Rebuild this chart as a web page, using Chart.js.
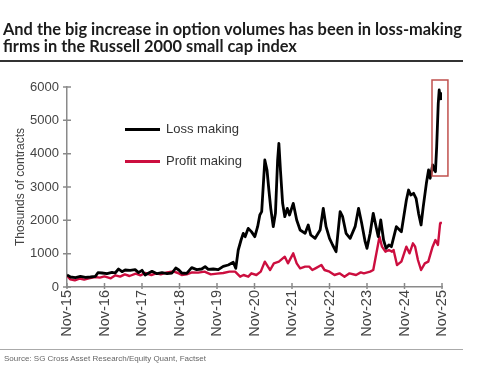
<!DOCTYPE html>
<html>
<head>
<meta charset="utf-8">
<script src="https://cdn.jsdelivr.net/npm/chart.js@4.4.1/dist/chart.umd.min.js"></script>
<style>
  html, body { margin: 0; padding: 0; background: #fff; }
  #wrap { position: relative; width: 487px; height: 372px; overflow: hidden; }
  #chart { position: absolute; left: 0; top: 0; }
  .title { position: absolute; left: 3px; top: 20px; font: 700 16.4px Lato, sans-serif; line-height: 17px; color: #1c1c1c; white-space: nowrap; }
  .rule { position: absolute; left: 0; top: 60px; width: 463px; height: 2px; background: #333; }
  .srcrule { position: absolute; left: 0; top: 349px; width: 463px; height: 1px; background: #aaa; }
  .source { position: absolute; left: 4px; top: 354px; font: 8px "Liberation Sans", Arial, sans-serif; color: #666; }
  .legend { position: absolute; left: 125px; font: 13px "Liberation Sans", Arial, sans-serif; color: #333; white-space: nowrap; }
  .legend span { display: inline-block; width: 35px; vertical-align: middle; margin-right: 6px; }
</style>
</head>
<body>
<div id="wrap">
  <canvas id="chart" width="487" height="372"></canvas>
  <div class="title">And the big increase in option volumes has been in loss-making<br>firms in the Russell 2000 small cap index</div>
  <div class="rule"></div>
  <div class="legend" style="top:121px"><span style="height:3px;background:#000"></span>Loss making</div>
  <div class="legend" style="top:153px"><span style="height:2.5px;background:#cc0e3f"></span>Profit making</div>
  <div class="srcrule"></div>
  <div class="source">Source: SG Cross Asset Research/Equity Quant, Factset</div>
</div>
<script>
// months since Nov-15, and thousands of contracts
var lossMonths = [0, 1.1, 2.7, 4.3, 5.9, 7.5, 9.1, 9.9, 11.2, 12.8, 14.4, 15.4, 16.5, 17.6, 18.6, 20.2, 21.8, 22.9, 24, 25,
    26.3, 27.2, 28.8, 30.4, 32, 33.6, 34.8, 35.8, 36.7, 38.3, 39.9, 41.5, 43.1, 44.2, 45.2, 46.8, 48.4, 50, 51.6, 53.2,
    54, 54.8, 55.7, 56.4, 57, 58, 59, 60.1, 61, 61.7, 62.3, 63.3, 64, 64.6, 65.2, 66, 66.7, 67.4, 67.8, 68.3,
    69, 69.7, 70.5, 71.2, 72.4, 73.5, 74.6, 76.2, 77.2, 78, 79.4, 81, 82, 82.9, 84, 85, 86.1, 87.4, 88.2, 89.3,
    90.6, 92.2, 93.3, 94.3, 95.4, 96, 97, 98, 98.9, 99.6, 100.4, 101.3, 102.1, 103, 103.8, 105.4, 107, 108.6, 109.3, 110,
    110.9, 111.7, 112.5, 113.3, 114, 115, 115.7, 116.2, 117, 117.5, 117.9, 118.3, 118.8, 119.1, 119.4, 119.6, 119.8];
var lossValues = [360, 300, 280, 320, 290, 300, 320, 430, 420, 400, 440, 420, 540, 460, 510, 500, 520, 430, 500, 360,
    430, 470, 400, 430, 400, 420, 570, 510, 420, 410, 580, 520, 540, 610, 530, 540, 520, 620, 660, 740,
    560, 1110, 1410, 1610, 1510, 1760, 1660, 1510, 1810, 2160, 2260, 3810, 3510, 2910, 2360, 1810, 2210, 3810, 4310, 3510,
    2510, 2110, 2360, 2160, 2510, 2010, 1710, 1610, 1860, 1560, 1460, 1710, 2360, 1810, 1460, 1260, 1060, 2260, 2110, 1610,
    1460, 1810, 2360, 1910, 1360, 1160, 1610, 2210, 1810, 1510, 2010, 1410, 1160, 1260, 1210, 1810, 1660, 2610, 2910, 2760,
    2810, 2660, 2210, 1860, 2410, 3110, 3510, 3260, 3660, 3510, 3460, 4210, 5510, 5910, 5710, 5810, 5610];

var profitMonths = [0, 1, 2.5, 4, 5.5, 7, 9, 10.5, 12, 14, 15.5, 17, 18.5, 20, 22, 23.5, 25, 27, 28.5, 30,
    32, 34, 35.5, 36.7, 38.3, 40, 42, 44, 46, 48, 50, 52, 53.8, 55.4, 56.5, 58, 59, 60.6, 62, 63.3,
    64.3, 65, 66.2, 67.8, 69.7, 70.7, 72.4, 73.5, 74.6, 76.2, 77.5, 78.5, 79.5, 81.4, 82.4, 84, 85.6, 87.2, 88.8, 90.4,
    92.5, 94, 95, 97, 98, 98.9, 100, 100.8, 101.9, 103, 104, 104.5, 105.6, 107, 108.6, 109.6, 110.7, 111.4, 112.3, 113.3,
    114.5, 115.6, 117, 117.9, 118.7, 119.4, 119.6];
var profitValues = [340, 230, 200, 250, 220, 260, 300, 280, 320, 260, 350, 310, 380, 330, 400, 350, 420, 360, 410, 380,
    440, 470, 420, 360, 380, 440, 430, 460, 380, 400, 420, 460, 460, 310, 360, 310, 410, 360, 460, 760,
    610, 510, 710, 760, 910, 710, 1010, 710, 560, 610, 610, 510, 560, 660, 510, 460, 360, 410, 310, 410,
    360, 440, 410, 460, 510, 960, 1510, 1210, 1060, 1110, 1060, 1110, 660, 760, 1210, 1010, 1310, 1210, 810, 510,
    710, 760, 1210, 1410, 1260, 1910, 1960];

var tickLabels = ['Nov-15', 'Nov-16', 'Nov-17', 'Nov-18', 'Nov-19', 'Nov-20', 'Nov-21', 'Nov-22', 'Nov-23', 'Nov-24', 'Nov-25'];
var yTicks = [0, 1000, 2000, 3000, 4000, 5000, 6000];
// highlighted recent spike: [month from, month to, value low, value high]
var highlightBox = [116.8, 121.9, 3330, 6210];

function toPoints(xs, ys) {
    return xs.map(function(x, i) { return { x: x, y: ys[i] }; });
}

var AXIS_COLOR = '#8a8a8a';

// tick marks that cross the axis line, plus the red highlight box
var extrasPlugin = {
    id: 'extras',
    afterDraw: function(chart) {
        var ctx = chart.ctx, xs = chart.scales.x, ys = chart.scales.y;
        var area = chart.chartArea;
        ctx.save();
        ctx.strokeStyle = AXIS_COLOR;
        ctx.lineWidth = 1.5;
        ctx.beginPath();
        xs.ticks.forEach(function(t) {
            var px = xs.getPixelForValue(t.value);
            ctx.moveTo(px, area.bottom - 4);
            ctx.lineTo(px, area.bottom + 2);
        });
        ys.ticks.forEach(function(t) {
            var py = ys.getPixelForValue(t.value);
            ctx.moveTo(area.left - 4, py);
            ctx.lineTo(area.left + 4, py);
        });
        ctx.stroke();

        ctx.strokeStyle = '#c0504d';
        ctx.lineWidth = 1.5;
        var x0 = xs.getPixelForValue(highlightBox[0]), x1 = xs.getPixelForValue(highlightBox[1]);
        var y0 = ys.getPixelForValue(highlightBox[3]), y1 = ys.getPixelForValue(highlightBox[2]);
        ctx.strokeRect(x0, y0, x1 - x0, y1 - y0);
        ctx.restore();
    }
};

new Chart(document.getElementById('chart').getContext('2d'), {
    type: 'line',
    data: {
        datasets: [{
            label: 'Loss making',
            data: toPoints(lossMonths, lossValues),
            borderColor: '#000',
            borderWidth: 2.8,
            borderJoinStyle: 'round',
            pointRadius: 0,
            tension: 0
        }, {
            label: 'Profit making',
            data: toPoints(profitMonths, profitValues),
            borderColor: '#cc0e3f',
            borderWidth: 2.4,
            borderJoinStyle: 'round',
            pointRadius: 0,
            tension: 0
        }]
    },
    plugins: [extrasPlugin],
    options: {
        responsive: false,
        animation: false,
        layout: { padding: { top: 87, right: 45, bottom: 27, left: 0 } },
        plugins: {
            legend: { display: false },
            tooltip: { enabled: false }
        },
        scales: {
            x: {
                type: 'linear',
                min: 0,
                max: 120,
                afterBuildTicks: function(scale) {
                    scale.ticks = tickLabels.map(function(l, i) { return { value: i * 12 }; });
                },
                afterFit: function(scale) { scale.height = 58; },
                grid: { display: false, drawTicks: false },
                border: { color: AXIS_COLOR, width: 1.5 },
                ticks: {
                    autoSkip: false,
                    minRotation: 90,
                    maxRotation: 90,
                    padding: 3,
                    color: '#444',
                    font: { family: 'Liberation Sans', size: 14.5 },
                    callback: function(v) { return tickLabels[Math.round(v / 12)]; }
                }
            },
            y: {
                min: 0,
                max: 6000,
                afterBuildTicks: function(scale) {
                    scale.ticks = yTicks.map(function(v) { return { value: v }; });
                },
                afterFit: function(scale) { scale.width = 67; },
                grid: { display: false, drawTicks: false },
                border: { color: AXIS_COLOR, width: 1.5 },
                title: {
                    display: true,
                    text: 'Thosunds of contracts',
                    color: '#444',
                    padding: { top: 13, bottom: 0 },
                    font: { family: 'Liberation Sans', size: 12 }
                },
                ticks: {
                    padding: 8,
                    color: '#444',
                    font: { family: 'Liberation Sans', size: 13 },
                    callback: function(v) { return String(v); }
                }
            }
        }
    }
});
</script>
</body>
</html>
